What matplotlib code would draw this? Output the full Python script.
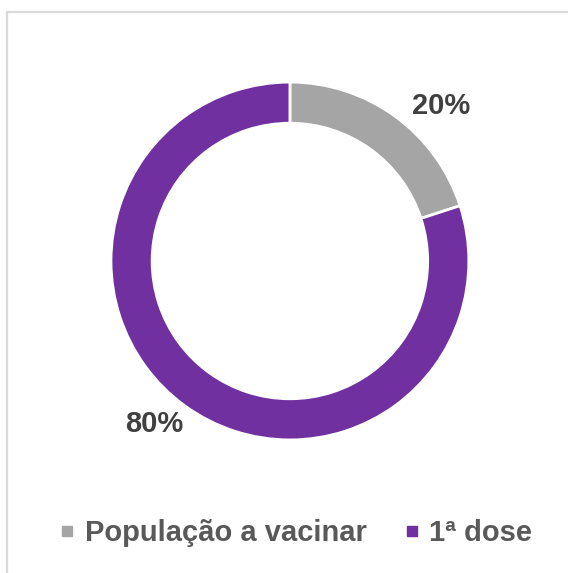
import matplotlib.pyplot as plt
from matplotlib.lines import Line2D
from matplotlib.patches import Rectangle

labels = ['População a vacinar', '1ª dose']
values = [20, 80]
colors = ['#A5A5A5', '#7030A0']

plt.rcParams['font.family'] = ['Liberation Sans', 'DejaVu Sans']

fig = plt.figure(figsize=(5.68, 5.73), dpi=100)
ax = fig.add_axes([0.1954, 0.232, 0.630, 0.625])

wedges, texts, autotexts = ax.pie(
    values, colors=colors, startangle=90, counterclock=False,
    radius=1, autopct='%d%%', pctdistance=1.2,
    wedgeprops=dict(width=0.23, edgecolor='white', linewidth=2),
    textprops=dict(fontsize=21, fontweight='bold', color='#404040'))
# nudge the percentage labels to where the original puts them
autotexts[0].set_position((0.844, 0.866))
autotexts[1].set_position((-0.757, -0.913))
ax.set_xlim(-1, 1)
ax.set_ylim(-1, 1)
ax.set_aspect('equal')

# light frame around the chart area
fig.patches.append(Rectangle((0.0123, -0.05), 1.1, 1.029, transform=fig.transFigure,
                             fill=False, edgecolor='#D9D9D9', linewidth=1.6))

handles = [Line2D([], [], marker='s', linestyle='', markersize=7.5,
                  markerfacecolor=c, markeredgecolor=c) for c in colors]
fig.legend(handles, labels, loc='center', bbox_to_anchor=(0.521, 0.070), ncol=2,
           frameon=False, handlelength=0.5, handletextpad=0.35, columnspacing=1.3,
           prop=dict(size=21, weight='bold'), labelcolor='#595959')

fig.savefig('out.png', dpi=100)
